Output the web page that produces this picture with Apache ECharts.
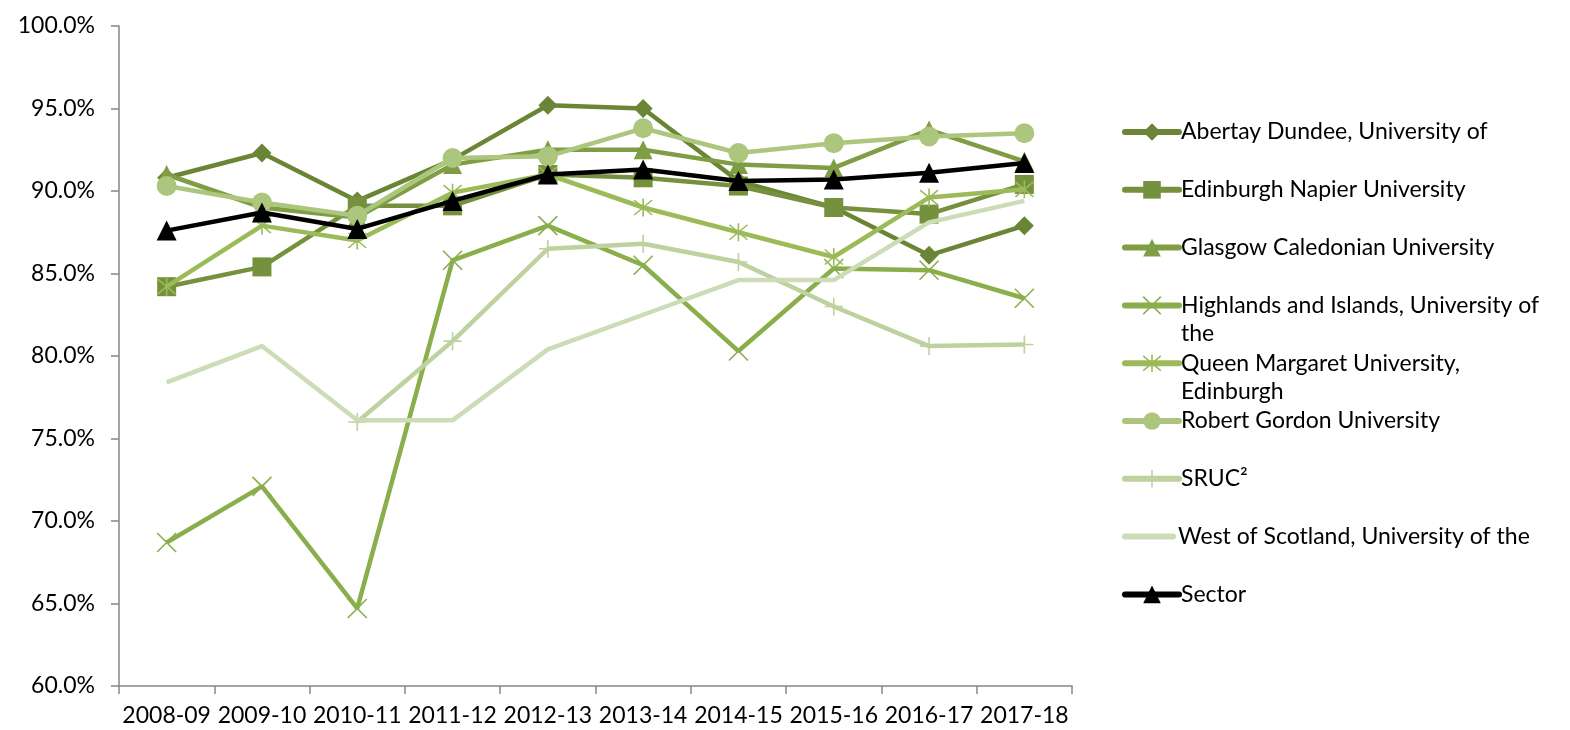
<!DOCTYPE html>
<html>
<head>
<meta charset="utf-8">
<script src="https://cdn.jsdelivr.net/npm/echarts@6/dist/echarts.min.js"></script>
<style>
  html, body { margin: 0; padding: 0; background: #fff; }
  #main { width: 1570px; height: 730px; }
</style>
</head>
<body>
<div id="main"></div>
<script>
// academic years
var years = ['2008-09', '2009-10', '2010-11', '2011-12', '2012-13', '2013-14', '2014-15', '2015-16', '2016-17', '2017-18'];

// values in %
var abertay = [90.8, 92.3, 89.4, 91.9, 95.2, 95.0, 90.6, 89.0, 86.1, 87.9];
var napier = [84.2, 85.4, 89.1, 89.1, 91.0, 90.8, 90.3, 89.0, 88.6, 90.4];
var glasgowCal = [91.0, 89.0, 88.4, 91.6, 92.5, 92.5, 91.6, 91.4, 93.7, 91.8];
var highlands = [68.7, 72.1, 64.7, 85.8, 87.9, 85.5, 80.3, 85.3, 85.2, 83.5];
var queenMargaret = [84.2, 87.9, 87.0, 89.9, 91.0, 89.0, 87.5, 86.0, 89.6, 90.1];
var robertGordon = [90.3, 89.3, 88.5, 92.0, 92.1, 93.8, 92.3, 92.9, 93.3, 93.5];
var sruc = [null, null, 76.0, 80.9, 86.5, 86.8, 85.7, 83.0, 80.6, 80.7];
var westScotland = [78.4, 80.6, 76.1, 76.1, 80.4, 82.5, 84.6, 84.6, 88.1, 89.4];
var sector = [87.6, 88.7, 87.7, 89.4, 91.0, 91.3, 90.6, 90.7, 91.1, 91.7];

var names = [
    'Abertay Dundee, University of',
    'Edinburgh Napier University',
    'Glasgow Caledonian University',
    'Highlands and Islands, University of the',
    'Queen Margaret University, Edinburgh',
    'Robert Gordon University',
    'SRUC²',
    'West of Scotland, University of the',
    'Sector'
];
var values = [abertay, napier, glasgowCal, highlands, queenMargaret, robertGordon, sruc, westScotland, sector];
var colors = ['#6b8537', '#76913d', '#7e9d45', '#8aae4c', '#9bbb59', '#acc67e', '#bdd29e', '#cbdcb7', '#000000'];
var symbols = [
    'diamond',
    'rect',
    'triangle',
    'path://M0,0L10,10M10,0L0,10',
    'path://M0,0L10,10M10,0L0,10M5,-1L5,11',
    'circle',
    'path://M5,0L5,10M0,5L10,5',
    'none',
    'triangle'
];
var symbolSizes = [19, 19, 19, 19, 18, 20, 18, 0, 20];
var isStroke = [false, false, false, true, true, false, true, false, false];

// wrapped legend labels
var wraps = {
    'Highlands and Islands, University of the': 'Highlands and Islands, University of\nthe',
    'Queen Margaret University, Edinburgh': 'Queen Margaret University,\nEdinburgh'
};

var font = 'Lato';
var lineH = 28;

var series = names.map(function (n, i) {
    return {
        name: n,
        type: 'line',
        data: values[i],
        color: colors[i],
        symbol: symbols[i],
        symbolSize: symbolSizes[i],
        showSymbol: symbols[i] !== 'none',
        lineStyle: { width: 4.5, color: colors[i] },
        itemStyle: isStroke[i]
            ? { color: colors[i], borderColor: colors[i], borderWidth: 1.6 }
            : { color: colors[i] },
        z: 2 + i
    };
});

var legends = names.map(function (n, i) {
    var center = 132 + i * 57.8;
    var twoLine = !!wraps[n];
    var item = { name: n };
    // plain line without marker: a 54x22 box holding a rounded bar
    if (symbols[i] === 'none') {
        item.icon = 'path://M0,0L0.01,0L0.01,0.01ZM3,8L51,8A3,3,0,0,1,51,14L3,14A3,3,0,0,1,3,8ZM53.99,22L54,22L54,21.99Z';
    }
    return {
        data: [item],
        orient: 'vertical',
        left: 1122,
        top: twoLine ? center - 1.5 * lineH : center - lineH / 2,
        itemWidth: 54,
        itemHeight: 22,
        itemGap: 0,
        padding: 0,
        selectedMode: false,
        lineStyle: { width: 6, cap: 'round' },
        itemStyle: isStroke[i] ? { borderWidth: 1.6 } : {},
        formatter: function (name) {
            return wraps[name] ? '\n' + wraps[name] : name;
        },
        textStyle: {
            fontFamily: font,
            fontSize: 23,
            color: '#000',
            lineHeight: lineH,
            padding: [0, 0, 0, -3]
        }
    };
});

var myChart = echarts.init(document.getElementById('main'));
myChart.setOption({
    animation: false,
    grid: { left: 119, right: 498, top: 26, bottom: 44 },
    legend: legends,
    xAxis: {
        type: 'category',
        data: years,
        boundaryGap: true,
        axisLine: { lineStyle: { color: '#868686', width: 1.5 } },
        axisTick: { show: true, length: 8, lineStyle: { color: '#868686', width: 1.5 } },
        axisLabel: { fontFamily: font, fontSize: 23, color: '#000', margin: 18, interval: 0 }
    },
    yAxis: {
        type: 'value',
        min: 60,
        max: 100,
        interval: 5,
        axisLine: { show: true, lineStyle: { color: '#868686', width: 1.5 } },
        axisTick: { show: true, length: 8, lineStyle: { color: '#868686', width: 1.5 } },
        splitLine: { show: false },
        axisLabel: {
            fontFamily: font,
            fontSize: 23,
            color: '#000',
            margin: 24,
            formatter: function (v) { return v.toFixed(1) + '%'; }
        }
    },
    series: series
});
</script>
</body>
</html>
